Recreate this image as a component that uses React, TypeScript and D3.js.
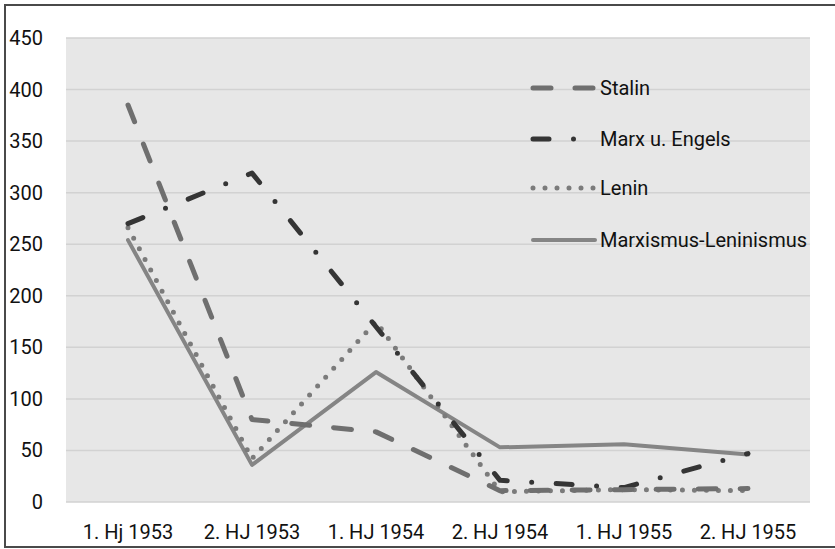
import React, { useRef, useEffect } from 'react';
import * as d3 from 'd3';

const categories = ['1. Hj 1953', '2. HJ 1953', '1. HJ 1954', '2. HJ 1954', '1. HJ 1955', '2. HJ 1955'];
const stalin = [385, 80, 68, 11, 12, 13];
const marxEngels = [270, 319, 170, 21, 14, 47];
const lenin = [266, 42, 175, 10, 12, 11];
const marxLenin = [254, 36, 126, 53, 56, 46];
const yTicks = [0, 50, 100, 150, 200, 250, 300, 350, 400, 450];

const series = [
  { name: 'Stalin', values: stalin, color: '#6f6f6f', width: 5, dash: '18 24' },
  { name: 'Marx u. Engels', values: marxEngels, color: '#353535', width: 5, dash: '16 24.5 0 24.5' },
  { name: 'Lenin', values: lenin, color: '#7b7b7b', width: 5, dash: '0 12' },
  { name: 'Marxismus-Leninismus', values: marxLenin, color: '#858585', width: 4, dash: null },
];

const App = () => {
  const svgRef = useRef<SVGSVGElement>(null);

  useEffect(() => {
    const width = 835;
    const height = 549;
    const margin = { top: 38, right: 25, bottom: 47, left: 66 };
    const svg = d3.select(svgRef.current);
    svg.selectAll('*').remove();

    const font = 'Roboto, sans-serif';

    svg.append('rect')
      .attr('width', width).attr('height', height).attr('fill', 'white');
    svg.append('rect')
      .attr('x', 5).attr('y', 5).attr('width', width).attr('height', height - 7)
      .attr('fill', 'none').attr('stroke', '#4a4a4a').attr('stroke-width', 2);

    const x = d3.scaleBand()
      .domain(categories)
      .range([margin.left, width - margin.right]);

    const y = d3.scaleLinear()
      .domain([0, 450])
      .range([height - margin.bottom, margin.top]);

    svg.append('rect')
      .attr('x', margin.left).attr('y', margin.top)
      .attr('width', width - margin.left - margin.right)
      .attr('height', height - margin.top - margin.bottom)
      .attr('fill', '#e7e7e7');

    // grid
    svg.append('g')
      .selectAll('line')
      .data(yTicks)
      .enter()
      .append('line')
      .attr('x1', margin.left).attr('x2', width - margin.right)
      .attr('y1', d => y(d)).attr('y2', d => y(d))
      .attr('stroke', '#d2d2d2').attr('stroke-width', 1.5);

    svg.append('g')
      .selectAll('text')
      .data(yTicks)
      .enter()
      .append('text')
      .attr('x', 43).attr('y', d => y(d))
      .attr('text-anchor', 'end').attr('dominant-baseline', 'central')
      .style('font-family', font).style('font-size', '20px').style('fill', '#111')
      .text(d => d);

    svg.append('g')
      .selectAll('text')
      .data(categories)
      .enter()
      .append('text')
      .attr('x', d => (x(d) as number) + x.bandwidth() / 2)
      .attr('y', 539)
      .attr('text-anchor', 'middle')
      .style('font-family', font).style('font-size', '20px').style('fill', '#111')
      .text(d => d);

    const line = d3.line<number>()
      .x((d, i) => (x(categories[i]) as number) + x.bandwidth() / 2)
      .y(d => y(d));

    // draw back to front like the original
    [...series].reverse().forEach(s => {
      svg.append('path')
        .attr('d', line(s.values))
        .attr('fill', 'none')
        .attr('stroke', s.color)
        .attr('stroke-width', s.width)
        .attr('stroke-linecap', 'round')
        .attr('stroke-linejoin', 'round')
        .attr('stroke-dasharray', s.dash);
    });

    const legendY = [88, 139, 188, 240];
    series.forEach((s, i) => {
      svg.append('line')
        .attr('x1', 533).attr('x2', 595)
        .attr('y1', legendY[i]).attr('y2', legendY[i])
        .attr('stroke', s.color)
        .attr('stroke-width', s.width)
        .attr('stroke-linecap', 'round')
        .attr('stroke-dasharray', s.dash);
      svg.append('text')
        .attr('x', 600).attr('y', legendY[i])
        .attr('dominant-baseline', 'central')
        .style('font-family', font).style('font-size', '20px').style('fill', '#111')
        .text(s.name);
    });
  }, []);

  return (
    <svg
      ref={svgRef}
      width={835}
      height={549}
      style={{ position: 'absolute', left: 0, top: 0, display: 'block' }}
    ></svg>
  );
};

export default App;
